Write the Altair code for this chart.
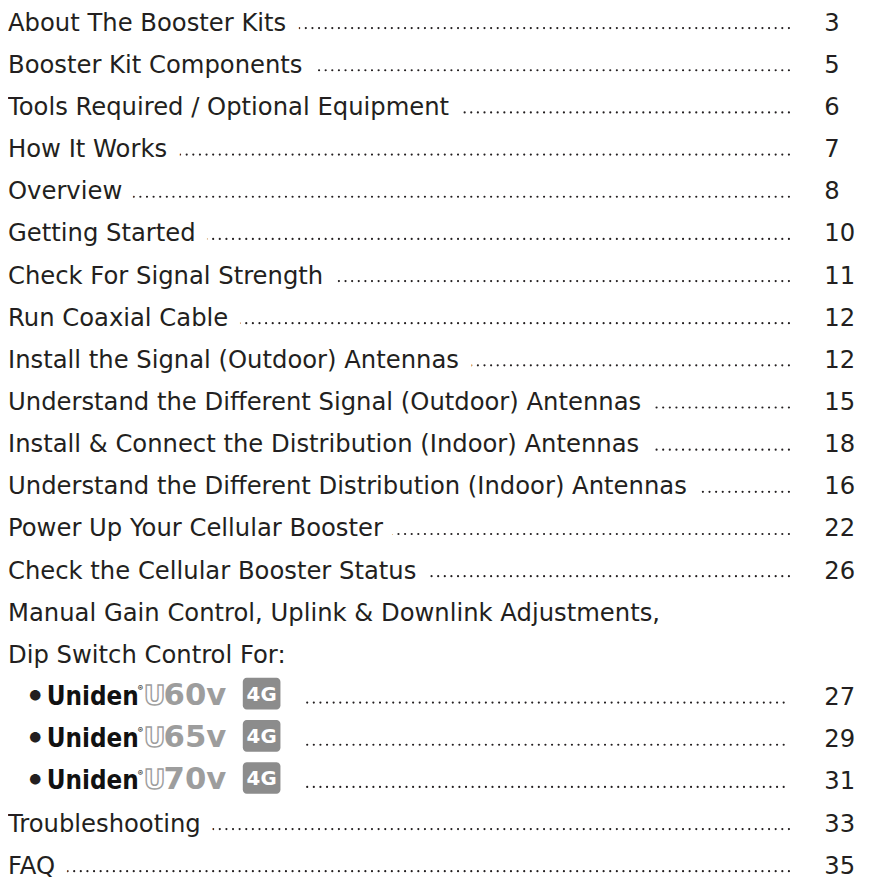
import altair as alt
import pandas as pd

# ---- content -------------------------------------------------------------
section_titles = [
    "About The Booster Kits",
    "Booster Kit Components",
    "Tools Required / Optional Equipment",
    "How It Works",
    "Overview",
    "Getting Started",
    "Check For Signal Strength",
    "Run Coaxial Cable",
    "Install the Signal (Outdoor) Antennas",
    "Understand the Different Signal (Outdoor) Antennas",
    "Install & Connect the Distribution (Indoor) Antennas",
    "Understand the Different Distribution (Indoor) Antennas",
    "Power Up Your Cellular Booster",
    "Check the Cellular Booster Status",
]
section_pages = [3, 5, 6, 7, 8, 10, 11, 12, 12, 15, 18, 16, 22, 26]

intro_lines = [
    "Manual Gain Control, Uplink & Downlink Adjustments,",
    "Dip Switch Control For:",
]

brand = "Uniden"
models = ["U60v", "U65v", "U70v"]
model_badge = "4G"
model_pages = [27, 29, 31]

closing_titles = ["Troubleshooting", "FAQ"]
closing_pages = [33, 35]

# ---- table ----------------------------------------------------------------
rows = []
r = 0
for t, p in zip(section_titles, section_pages):
    rows.append(dict(row=r, title=t, page=str(p), kind="entry", model=""))
    r += 1
for t in intro_lines:
    rows.append(dict(row=r, title=t, page="", kind="intro", model=""))
    r += 1
for m, p in zip(models, model_pages):
    rows.append(dict(row=r, title="", page=str(p), kind="model", model=m))
    r += 1
for t, p in zip(closing_titles, closing_pages):
    rows.append(dict(row=r, title=t, page=str(p), kind="entry", model=""))
    r += 1
df = pd.DataFrame(rows)
n_rows = len(df)

# ---- style ----------------------------------------------------------------
INK = "#231f20"
FONT = "DejaVu Sans"
FS = 24.5
BRAND_FONT = "DejaVu Sans Condensed, Liberation Sans Narrow, Roboto Condensed, DejaVu Sans, sans-serif"
MODEL_FONT = "DejaVu Sans"
GREY = "#9d9d9d"
BADGE = "#8c8c8c"

y = alt.Y("row:Q", scale=alt.Scale(domain=[0, n_rows - 1], range=[18.7, 869.7]), axis=None)
base = alt.Chart(df).encode(y=y)

entries = base.transform_filter("datum.kind == 'entry'")
texts = base.transform_filter("datum.kind != 'model'")
mods = base.transform_filter("datum.kind == 'model'").transform_calculate(
    brand=f"'{brand}'",
    m_first="substring(datum.model, 0, 1)",
    m_rest="substring(datum.model, 1)",
    badge=f"'{model_badge}'",
)

dot_style = dict(color=INK, strokeWidth=2.2, strokeCap="round",
                 strokeDash=[0.01, 6.67], yOffset=-2.5)

dots_entry = entries.mark_rule(**dot_style).encode(x=alt.value(0), x2=alt.value(791))
dots_model = mods.mark_rule(**dot_style).encode(x=alt.value(302), x2=alt.value(787))

halo = texts.mark_text(align="left", baseline="alphabetic", font=FONT, fontSize=FS,
                       color="white", stroke="white", strokeWidth=28,
                       strokeJoin="round").encode(x=alt.value(0), text="title:N")
title_txt = texts.mark_text(align="left", baseline="alphabetic", font=FONT, fontSize=FS,
                            color=INK).encode(x=alt.value(0), text="title:N")

page_txt = base.transform_filter("datum.page != ''").mark_text(
    align="left", baseline="alphabetic", font=FONT, fontSize=FS, color=INK
).encode(x=alt.value(824), text="page:N")

bullet = mods.mark_text(align="left", baseline="alphabetic", font="Inter", fontSize=34,
                        color=INK, dy=0).encode(x=alt.value(18), text=alt.value("\u2022"))
brand_txt = mods.mark_text(align="left", baseline="alphabetic", font=BRAND_FONT,
                           fontSize=26, fontWeight="bold", color="#111111").encode(
    x=alt.value(39), text="brand:N")
reg_txt = mods.mark_text(align="left", baseline="alphabetic", font="Inter",
                         fontSize=8, color="#111111", dy=-14).encode(
    x=alt.value(131), text=alt.value("\u00ae"))
m_first = mods.mark_text(align="left", baseline="alphabetic", font=MODEL_FONT,
                         fontSize=27, fontWeight="bold", fillOpacity=0,
                         stroke=GREY, strokeWidth=1.4).encode(
    x=alt.value(137), text="m_first:N")
m_rest = mods.mark_text(align="left", baseline="alphabetic", font=MODEL_FONT,
                        fontSize=31, fontWeight="bold", color=GREY).encode(
    x=alt.value(157), text="m_rest:N")
badge_box = mods.mark_rect(color=BADGE, cornerRadius=4, yOffset=-27.5, y2Offset=4.5).encode(
    x=alt.value(237), x2=alt.value(275), y2="row:Q")
badge_txt = mods.mark_text(align="center", baseline="alphabetic", font=MODEL_FONT,
                           fontSize=20, fontWeight="bold", color="white", dy=-4).encode(
    x=alt.value(256), text="badge:N")

chart = alt.layer(
    dots_entry, dots_model, halo, title_txt, page_txt,
    bullet, brand_txt, reg_txt, m_first, m_rest, badge_box, badge_txt,
).properties(
    width=861, height=876, padding=0, background="white",
    autosize=alt.AutoSizeParams(type="none"),
).configure_view(stroke=None)

chart.save("out.html", embed_options={"renderer": "svg", "actions": False})
